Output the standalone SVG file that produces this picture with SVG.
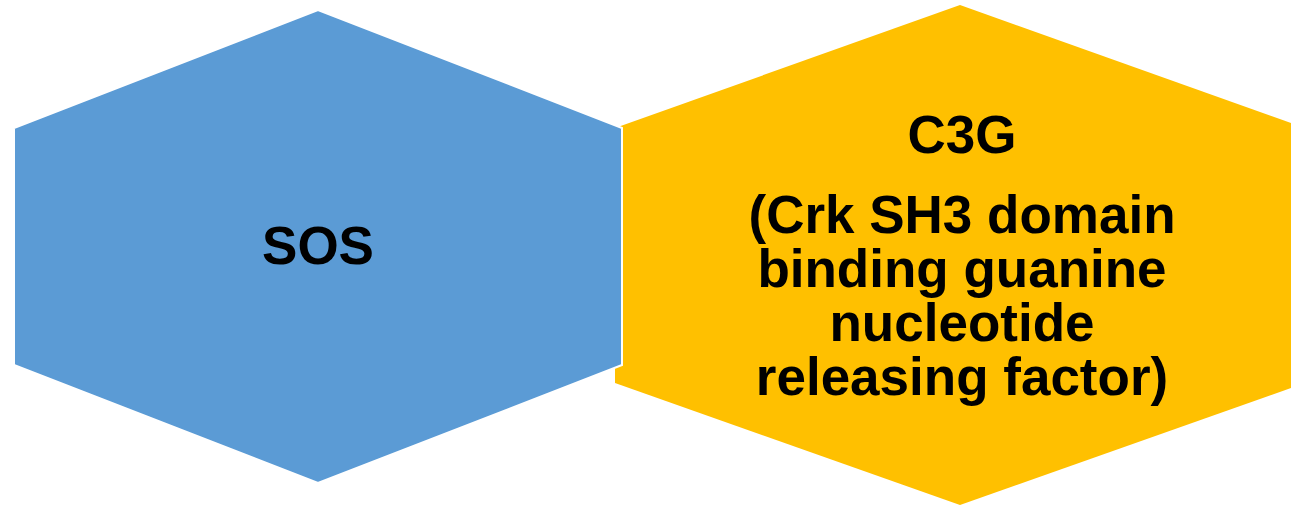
<svg xmlns="http://www.w3.org/2000/svg" width="1291" height="509" viewBox="0 0 1291 509">
  <style>
    .lbl { font-family: "Liberation Sans", Arial, sans-serif; font-weight: bold; font-size: 53px; fill: #000; text-anchor: middle; }
  </style>
  <rect width="1291" height="509" fill="#fff"/>
  <g id="node-c3g">
    <polygon points="615,128 960,5 1305,128 1305,383 960,505 615,383" fill="#FFC000"/>
    <text class="lbl" x="962" y="153">C3G</text>
    <text class="lbl" x="962" y="233">(Crk SH3 domain</text>
    <text class="lbl" x="962" y="287">binding guanine</text>
    <text class="lbl" x="962" y="341">nucleotide</text>
    <text class="lbl" x="962" y="395">releasing factor)</text>
  </g>
  <g id="node-sos">
    <polygon points="14,128 318,10 622,128 622,365 318,483 14,365" fill="#5B9BD5" stroke="#fff" stroke-width="2"/>
    <text class="lbl" x="318" y="264">SOS</text>
  </g>
  <g id="connectors"/>
</svg>
